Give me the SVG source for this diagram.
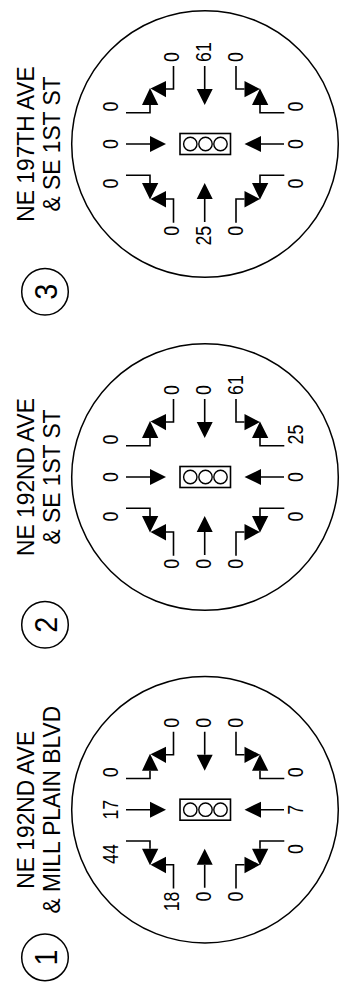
<svg xmlns="http://www.w3.org/2000/svg" width="340" height="996" viewBox="0 0 340 996">
<style>
text{font-family:"Liberation Sans",Arial,sans-serif;fill:#000}
.big{fill:#fff;stroke:#000;stroke-width:1.5}
.sig{fill:#fff;stroke:#000;stroke-width:1.6}
.lamp{fill:#fff;stroke:#000;stroke-width:1.4}
.l{fill:none;stroke:#000;stroke-width:1.6}
.h{fill:#000}
.t{font-size:24px;text-anchor:middle}
.no{font-size:31px;text-anchor:middle}
.n text{font-size:22.500px}
.s{text-anchor:start}.m{text-anchor:middle}.e{text-anchor:end}
</style>
<defs>
<g id="base">
<circle class="big" cx="205" cy="144" r="133.3"/>
<rect class="sig" x="180" y="133.5" width="50.5" height="21"/>
<circle class="lamp" cx="190.3" cy="144" r="6.7"/>
<circle class="lamp" cx="205.5" cy="144" r="6.7"/>
<circle class="lamp" cx="220.5" cy="144" r="6.7"/>
<circle class="big" cx="45" cy="291.7" r="23.3"/>
</g>
<g id="arrows">
<path class="l" d="M204.7 66V89M204.700 222V199M126 144H150M284 144H261"/>
<path class="h" d="M196.7 89H212.7L204.700 105ZM196.7 199H212.7L204.700 183ZM150 136V152L166 144ZM261 136V152L244.500 144Z"/>
<path class="l" d="M126 112.800H150V105M173.500 66V89H166M126 175.300H150V183M173.500 222.700V199H166"/>
<path class="l" d="M284.300 112.800H260V105M236 66V89H244.500M284.300 175.300H260V183M236 222.700V199H244.500"/>
<path class="h" d="M142 105H158.300L150 88ZM166 81V97.300L150.500 88.500ZM142 183H158.300L150 199.500ZM166 191V207.500L150.500 199Z"/>
<path class="h" d="M252 105H268.300L260 88.500ZM244.500 81V97.300L260 89ZM252 183H268.300L260 199.500ZM244.500 191V207.500L260 199Z"/>
</g>
</defs>
<g id="panel-3">
<use href="#base"/>
<text class="t" transform="translate(33.500 144) rotate(-90) scale(.95 1)">NE 197TH AVE</text>
<text class="t" transform="translate(59.500 144) rotate(-90) scale(.95 1)">&amp; SE 1ST ST</text>
<text class="no" transform="translate(56.500 291.700) rotate(-90) scale(.93 1)">3</text>
<g class="n">
<text class="s" transform="translate(179 62) rotate(-90) scale(.79 1)">0</text>
<text class="s" transform="translate(211 62) rotate(-90) scale(.79 1)">61</text>
<text class="s" transform="translate(243 62) rotate(-90) scale(.79 1)">0</text>
<text class="e" transform="translate(179 225.800) rotate(-90) scale(.79 1)">0</text>
<text class="e" transform="translate(211 225.800) rotate(-90) scale(.79 1)">25</text>
<text class="e" transform="translate(243 225.800) rotate(-90) scale(.79 1)">0</text>
<text class="s" transform="translate(118 111.500) rotate(-90) scale(.79 1)">0</text>
<text class="m" transform="translate(118 144) rotate(-90) scale(.79 1)">0</text>
<text class="e" transform="translate(118 178.500) rotate(-90) scale(.79 1)">0</text>
<text class="s" transform="translate(303 111.500) rotate(-90) scale(.79 1)">0</text>
<text class="m" transform="translate(303 144) rotate(-90) scale(.79 1)">0</text>
<text class="e" transform="translate(303 178.500) rotate(-90) scale(.79 1)">0</text>
</g>
</g>
<g id="panel-2" transform="translate(0 333)">
<use href="#base"/>
<text class="t" transform="translate(33.500 144) rotate(-90) scale(.95 1)">NE 192ND AVE</text>
<text class="t" transform="translate(59.500 144) rotate(-90) scale(.95 1)">&amp; SE 1ST ST</text>
<text class="no" transform="translate(56.500 291.700) rotate(-90) scale(.93 1)">2</text>
<g class="n">
<text class="s" transform="translate(179 62) rotate(-90) scale(.79 1)">0</text>
<text class="s" transform="translate(211 62) rotate(-90) scale(.79 1)">0</text>
<text class="s" transform="translate(243 62) rotate(-90) scale(.79 1)">61</text>
<text class="e" transform="translate(179 225.800) rotate(-90) scale(.79 1)">0</text>
<text class="e" transform="translate(211 225.800) rotate(-90) scale(.79 1)">0</text>
<text class="e" transform="translate(243 225.800) rotate(-90) scale(.79 1)">0</text>
<text class="s" transform="translate(118 111.500) rotate(-90) scale(.79 1)">0</text>
<text class="m" transform="translate(118 144) rotate(-90) scale(.79 1)">0</text>
<text class="e" transform="translate(118 178.500) rotate(-90) scale(.79 1)">0</text>
<text class="s" transform="translate(303 111.500) rotate(-90) scale(.79 1)">25</text>
<text class="m" transform="translate(303 144) rotate(-90) scale(.79 1)">0</text>
<text class="e" transform="translate(303 178.500) rotate(-90) scale(.79 1)">0</text>
</g>
</g>
<g id="panel-1" transform="translate(0 665.700)">
<use href="#base"/>
<text class="t" transform="translate(33.500 144) rotate(-90) scale(.95 1)">NE 192ND AVE</text>
<text class="t" transform="translate(59.500 144) rotate(-90) scale(.95 1)">&amp; MILL PLAIN BLVD</text>
<text class="no" transform="translate(56.500 291.700) rotate(-90) scale(.93 1)">1</text>
<g class="n">
<text class="s" transform="translate(179 62) rotate(-90) scale(.79 1)">0</text>
<text class="s" transform="translate(211 62) rotate(-90) scale(.79 1)">0</text>
<text class="s" transform="translate(243 62) rotate(-90) scale(.79 1)">0</text>
<text class="e" transform="translate(179 225.800) rotate(-90) scale(.79 1)">18</text>
<text class="e" transform="translate(211 225.800) rotate(-90) scale(.79 1)">0</text>
<text class="e" transform="translate(243 225.800) rotate(-90) scale(.79 1)">0</text>
<text class="s" transform="translate(118 111.500) rotate(-90) scale(.79 1)">0</text>
<text class="m" transform="translate(118 144) rotate(-90) scale(.79 1)">17</text>
<text class="e" transform="translate(118 178.500) rotate(-90) scale(.79 1)">44</text>
<text class="s" transform="translate(303 111.500) rotate(-90) scale(.79 1)">0</text>
<text class="m" transform="translate(303 144) rotate(-90) scale(.79 1)">7</text>
<text class="e" transform="translate(303 178.500) rotate(-90) scale(.79 1)">0</text>
</g>
</g>
<g id="connectors">
<use href="#arrows"/>
<use href="#arrows" y="333"/>
<use href="#arrows" y="665.700"/>
</g>
</svg>
